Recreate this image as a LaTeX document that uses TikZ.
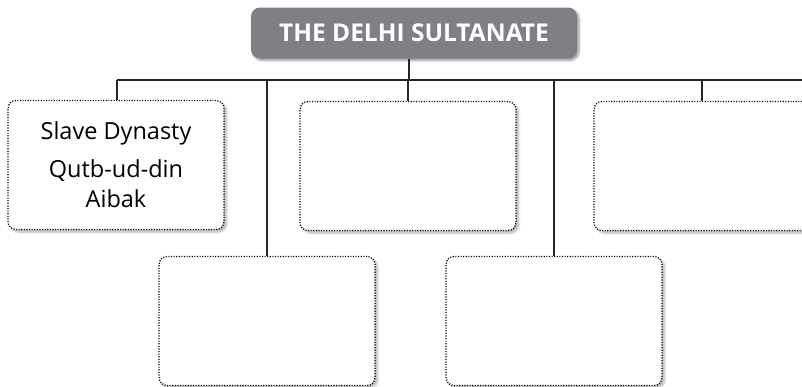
\documentclass[tikz,border=0pt]{standalone}
\usepackage{fontspec}
\setmainfont{Open Sans}
\usepackage{xcolor}
\usetikzlibrary{shadows.blur}
\definecolor{titlegray}{HTML}{7F8084}

\begin{document}
\begin{tikzpicture}[
        x=1pt, y=-1pt,
        heading/.style={fill=titlegray, rounded corners=9pt, minimum width=326pt, minimum height=51pt,
            text=white, font=\bfseries\fontsize{24.5}{28}\selectfont,
            blur shadow={shadow xshift=2pt, shadow yshift=-2pt, shadow blur steps=6}},
        dynasty/.style={draw, line width=1.3pt, dash pattern=on 1.1pt off 1.5pt, rounded corners=8pt,
            fill=white, minimum width=216pt, minimum height=129pt, align=center,
            font=\fontsize{23.5}{30}\selectfont,
            blur shadow={shadow xshift=2.5pt, shadow yshift=-2.5pt, shadow blur steps=6, shadow opacity=30}},
        link/.style={line width=1.6pt, black!85}
    ]
    \clip (0,0) rectangle (802,386);

    % Title
    \node[heading] (title) at (414, 33) {THE DELHI SULTANATE};

    % Dynasty boxes, top row
    \node[dynasty] (slave) at (116, 165) {Slave Dynasty\\[8pt]Qutb-ud-din\\Aibak};
    \node[dynasty] (second) at (408, 166) {};
    \node[dynasty] (fourth) at (702, 166) {};

    % Dynasty boxes, bottom row
    \node[dynasty] (first) at (267, 321) {};
    \node[dynasty] (third) at (554, 321) {};

    % Bar
    \coordinate (barL) at (117, 80);
    \coordinate (barR) at (802, 80);
    \coordinate (barM) at (409, 80);

    % Connectors
    \draw[link] (barL) -- (barR);
    \draw[link] (barM |- title.south) -- (barM);
    \draw[link] (slave.north -| barL) -- (barL);
    \draw[link] (second.north) -- (second.north |- barL);
    \draw[link] (fourth.north) -- (fourth.north |- barL);
    \draw[link] (first.north) -- (first.north |- barL);
    \draw[link] (third.north) -- (third.north |- barL);
\end{tikzpicture}
\end{document}
